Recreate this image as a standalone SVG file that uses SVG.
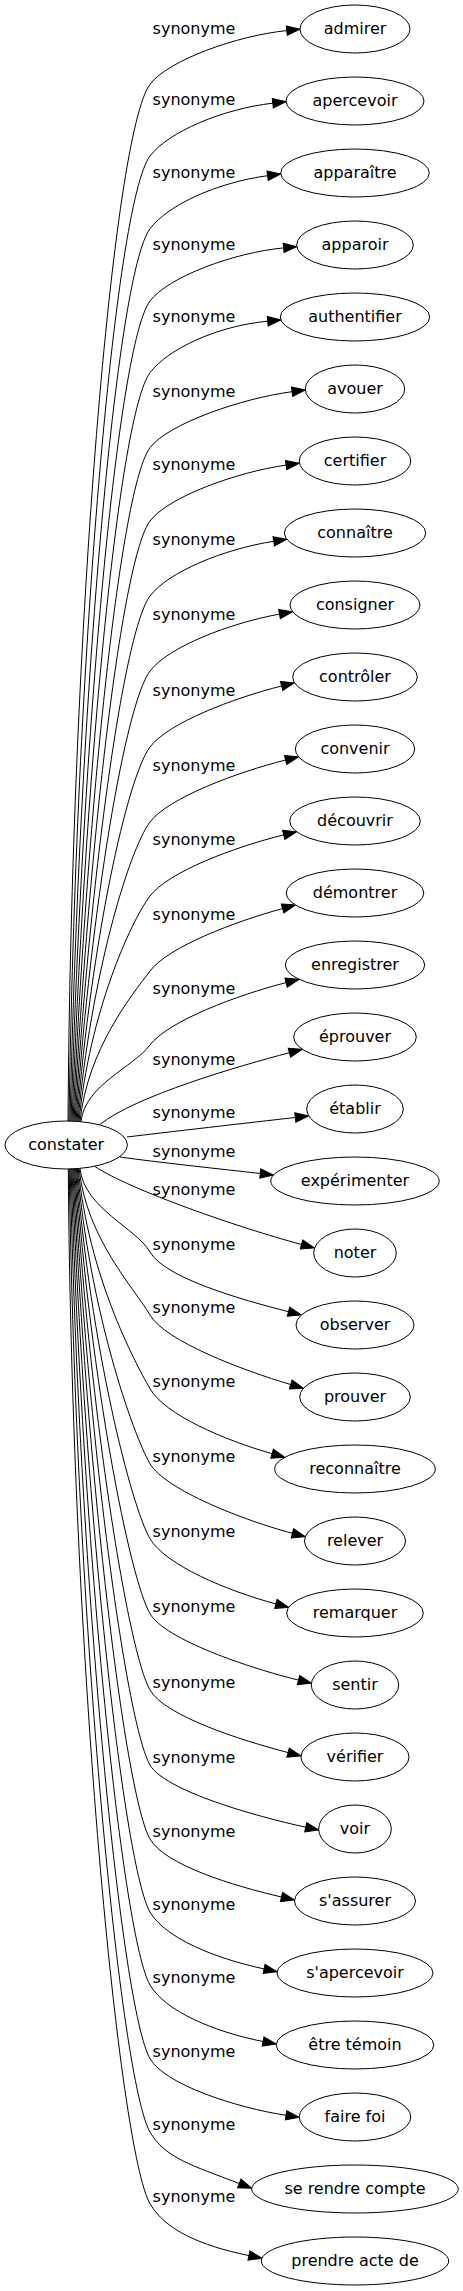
<svg xmlns="http://www.w3.org/2000/svg" width="463" height="2291" viewBox="0 0 463 2291">
<style>
.node ellipse{fill:#fff;stroke:#000;stroke-width:1}
text{font-family:"DejaVu Sans","Liberation Sans",sans-serif;font-size:16px;fill:#000;text-anchor:middle}
#edges path{fill:none;stroke:#000;stroke-width:1;marker-end:url(#ah)}
</style>
<defs>
<marker id="ah" viewBox="0 0 14 10" refX="0" refY="5" markerWidth="14" markerHeight="10" markerUnits="userSpaceOnUse" orient="auto" style="overflow:visible"><path d="M0,0.3 L13.3,5 L0,9.7 Z" fill="#000" stroke="#000" stroke-width="1"/></marker>
</defs>
<rect width="463" height="2291" fill="#fff"/>
<g id="edges">
<g id="e0"><path d="M68,1121.5 C71.4,623.6 113.2,133.3 150,84.3 C168,60.3 237,35.6 286.8,30.6"/><text x="194" y="33.5">synonyme</text></g>
<g id="e1"><path d="M69,1121.5 C75.8,658.1 114.7,203 150,156 C168,132 223.1,108.8 272.8,103.2"/><text x="194" y="105">synonyme</text></g>
<g id="e2"><path d="M70,1121.5 C79.7,693 116.3,273.7 150,228.7 C168,204.7 218.1,182.3 267.6,175.7"/><text x="194" y="177.7">synonyme</text></g>
<g id="e3"><path d="M71,1121.5 C83,727.7 117.8,344 150,301 C168,277 233.8,252.6 283.6,247.9"/><text x="194" y="250">synonyme</text></g>
<g id="e4"><path d="M72,1121.5 C85.8,762.1 119.3,413.7 150,372.7 C168,348.7 217.9,325.8 267.7,321.2"/><text x="194" y="321.7">synonyme</text></g>
<g id="e5"><path d="M73,1121.5 C88,798.1 120.8,486.6 150,447.7 C168,423.7 242.5,398.1 292.1,391.7"/><text x="194" y="396.7">synonyme</text></g>
<g id="e6"><path d="M74,1121.5 C89.7,833.3 122.4,557.8 150,521 C168,497 236.6,472.1 286.1,465.1"/><text x="194" y="470">synonyme</text></g>
<g id="e7"><path d="M75,1121.5 C90.8,869.3 124,630.7 150,596 C168,572 224.3,548.9 273.7,541.3"/><text x="194" y="545">synonyme</text></g>
<g id="e8"><path d="M76,1121.5 C91.3,905.3 125.5,703.6 150,671 C168,647 230.3,623 279.5,614.1"/><text x="194" y="620">synonyme</text></g>
<g id="e9"><path d="M77,1121.5 C91.2,941.7 127.1,777.5 150,747 C168,723 233.1,698.2 281.6,686"/><text x="194" y="696">synonyme</text></g>
<g id="e10"><path d="M78,1121.5 C90.6,977.7 128.7,850.4 150,822 C168,798 237.1,772.2 285.6,760"/><text x="194" y="771">synonyme</text></g>
<g id="e11"><path d="M79,1121.5 C89.3,1013.3 130.3,922.3 150,896 C168,872 235.1,846.8 283.7,834.9"/><text x="194" y="845">synonyme</text></g>
<g id="e12"><path d="M80,1121.5 C87.5,1049.3 131.8,995.2 150,971 C168,947 234.4,921.8 282.6,908.5"/><text x="194" y="920">synonyme</text></g>
<g id="e13"><path d="M81,1121.5 C85.1,1084.8 133.4,1067.2 150,1045 C168,1021 237.7,995 286.1,982.6"/><text x="194" y="994">synonyme</text></g>
<g id="e14"><path d="M100,1124.5 C135,1096 240,1065.7 289.4,1052.7"/><text x="194" y="1065">synonyme</text></g>
<g id="e15"><path d="M127,1137 C160,1133 255,1122 295.3,1117.5"/><text x="194" y="1118">synonyme</text></g>
<g id="e16"><path d="M120,1157 C155,1162 225,1169.5 260.3,1173.5"/><text x="194" y="1157">synonyme</text></g>
<g id="e17"><path d="M95,1166.5 C130,1190 240,1228 301.5,1244.5"/><text x="194" y="1195">synonyme</text></g>
<g id="e18"><path d="M80,1168.5 C84.4,1208.6 136,1227.8 150,1252 C165,1278 240.1,1299.3 288.5,1311.7"/><text x="194" y="1250">synonyme</text></g>
<g id="e19"><path d="M79.1,1168.5 C86.4,1238.8 135,1288.9 150,1315 C165,1341 242.7,1370.4 290.7,1384.5"/><text x="194" y="1313">synonyme</text></g>
<g id="e20"><path d="M78.2,1168.5 C88.3,1274.2 133.7,1360.4 150,1388.7 C165,1414.7 224,1440 272.1,1453.7"/><text x="194" y="1386.7">synonyme</text></g>
<g id="e21"><path d="M77.3,1168.5 C89.7,1310.2 132.4,1433.1 150,1463.7 C165,1489.7 244.1,1520.5 292.4,1533.3"/><text x="194" y="1461.7">synonyme</text></g>
<g id="e22"><path d="M76.4,1168.5 C90.5,1346.2 131,1505.8 150,1538.7 C165,1564.7 227.6,1591.1 275.9,1603.9"/><text x="194" y="1536.7">synonyme</text></g>
<g id="e23"><path d="M75.5,1168.5 C90.8,1382.2 129.7,1578.5 150,1613.7 C165,1639.7 249.9,1668.2 298.5,1680.1"/><text x="194" y="1611.7">synonyme</text></g>
<g id="e24"><path d="M74.6,1168.5 C90.4,1418.8 128.4,1652.5 150,1690 C165,1716 239.8,1739.9 288.1,1752.6"/><text x="194" y="1688">synonyme</text></g>
<g id="e25"><path d="M73.7,1168.5 C89.4,1454.8 127.1,1725.3 150,1765 C165,1791 256.9,1816.6 305.7,1827.2"/><text x="194" y="1763">synonyme</text></g>
<g id="e26"><path d="M72.8,1168.5 C87.9,1490.3 125.8,1797 150,1839 C165,1865 232.8,1885.7 281.5,1897"/><text x="194" y="1837">synonyme</text></g>
<g id="e27"><path d="M71.9,1168.5 C85.8,1525.4 124.5,1867.8 150,1912 C165,1938 215.2,1958.5 264.1,1968.9"/><text x="194" y="1910">synonyme</text></g>
<g id="e28"><path d="M71,1168.5 C83.1,1560.4 123.2,1938.6 150,1985 C165,2011 214,2031.9 263.1,2041.5"/><text x="194" y="1983">synonyme</text></g>
<g id="e29"><path d="M70.1,1168.5 C79.9,1595.8 121.9,2010 150,2058.7 C165,2084.7 236.6,2107.7 286,2115.3"/><text x="194" y="2056.7">synonyme</text></g>
<g id="e30"><path d="M69.2,1168.5 C76.1,1631 120.7,2081.2 150,2132 C165,2158 192.6,2165.6 239.3,2183.5"/><text x="194" y="2130">synonyme</text></g>
<g id="e31"><path d="M68.3,1168.5 C71.8,1665.4 119.4,2150.7 150,2203.7 C165,2229.7 199.9,2245.5 248.9,2255.6"/><text x="194" y="2201.7">synonyme</text></g>
</g>
<g id="n-constater" class="node"><ellipse cx="66.2" cy="1145" rx="61.2" ry="24"/><text x="66.2" y="1150">constater</text></g>
<g id="n-admirer" class="node"><ellipse cx="355" cy="29" rx="55" ry="24"/><text x="355" y="34">admirer</text></g>
<g id="n-apercevoir" class="node"><ellipse cx="355" cy="101" rx="69" ry="24"/><text x="355" y="106">apercevoir</text></g>
<g id="n-apparaitre" class="node"><ellipse cx="355" cy="173" rx="74.3" ry="24"/><text x="355" y="178">apparaître</text></g>
<g id="n-apparoir" class="node"><ellipse cx="355" cy="245" rx="58.3" ry="24"/><text x="355" y="250">apparoir</text></g>
<g id="n-authentifier" class="node"><ellipse cx="355" cy="317" rx="74.7" ry="24"/><text x="355" y="322">authentifier</text></g>
<g id="n-avouer" class="node"><ellipse cx="355" cy="389" rx="49.7" ry="24"/><text x="355" y="394">avouer</text></g>
<g id="n-certifier" class="node"><ellipse cx="355" cy="461" rx="55.8" ry="24"/><text x="355" y="466">certifier</text></g>
<g id="n-connaitre" class="node"><ellipse cx="355" cy="533" rx="70.7" ry="24"/><text x="355" y="538">connaître</text></g>
<g id="n-consigner" class="node"><ellipse cx="355" cy="605" rx="65" ry="24"/><text x="355" y="610">consigner</text></g>
<g id="n-controler" class="node"><ellipse cx="355" cy="677" rx="62.3" ry="24"/><text x="355" y="682">contrôler</text></g>
<g id="n-convenir" class="node"><ellipse cx="355" cy="749" rx="59.7" ry="24"/><text x="355" y="754">convenir</text></g>
<g id="n-decouvrir" class="node"><ellipse cx="355" cy="821" rx="65.3" ry="24"/><text x="355" y="826">découvrir</text></g>
<g id="n-demontrer" class="node"><ellipse cx="355" cy="893" rx="68.8" ry="24"/><text x="355" y="898">démontrer</text></g>
<g id="n-enregistrer" class="node"><ellipse cx="355" cy="965" rx="69.7" ry="24"/><text x="355" y="970">enregistrer</text></g>
<g id="n-eprouver" class="node"><ellipse cx="355" cy="1037" rx="61.3" ry="24"/><text x="355" y="1042">éprouver</text></g>
<g id="n-etablir" class="node"><ellipse cx="355" cy="1109" rx="48.3" ry="24"/><text x="355" y="1114">établir</text></g>
<g id="n-experimenter" class="node"><ellipse cx="355" cy="1181" rx="84.2" ry="24"/><text x="355" y="1186">expérimenter</text></g>
<g id="n-noter" class="node"><ellipse cx="355" cy="1253" rx="41.3" ry="24"/><text x="355" y="1258">noter</text></g>
<g id="n-observer" class="node"><ellipse cx="355" cy="1325" rx="59" ry="24"/><text x="355" y="1330">observer</text></g>
<g id="n-prouver" class="node"><ellipse cx="355" cy="1397" rx="55.3" ry="24"/><text x="355" y="1402">prouver</text></g>
<g id="n-reconnaitre" class="node"><ellipse cx="355" cy="1469" rx="80.3" ry="24"/><text x="355" y="1474">reconnaître</text></g>
<g id="n-relever" class="node"><ellipse cx="355" cy="1541" rx="50.5" ry="24"/><text x="355" y="1546">relever</text></g>
<g id="n-remarquer" class="node"><ellipse cx="355" cy="1613" rx="68.3" ry="24"/><text x="355" y="1618">remarquer</text></g>
<g id="n-sentir" class="node"><ellipse cx="355" cy="1685" rx="43.7" ry="24"/><text x="355" y="1690">sentir</text></g>
<g id="n-verifier" class="node"><ellipse cx="355" cy="1757" rx="54" ry="24"/><text x="355" y="1762">vérifier</text></g>
<g id="n-voir" class="node"><ellipse cx="355" cy="1829" rx="36.3" ry="24"/><text x="355" y="1834">voir</text></g>
<g id="n-sassurer" class="node"><ellipse cx="355" cy="1901" rx="60.5" ry="24"/><text x="355" y="1906">s'assurer</text></g>
<g id="n-sapercevoir" class="node"><ellipse cx="355" cy="1973" rx="78" ry="24"/><text x="355" y="1978">s'apercevoir</text></g>
<g id="n-etre-temoin" class="node"><ellipse cx="355" cy="2045" rx="78.8" ry="24"/><text x="355" y="2050">être témoin</text></g>
<g id="n-faire-foi" class="node"><ellipse cx="355" cy="2117" rx="55.8" ry="24"/><text x="355" y="2122">faire foi</text></g>
<g id="n-se-rendre-compte" class="node"><ellipse cx="355" cy="2189" rx="103.3" ry="24"/><text x="355" y="2194">se rendre compte</text></g>
<g id="n-prendre-acte-de" class="node"><ellipse cx="355" cy="2261" rx="93.7" ry="24"/><text x="355" y="2266">prendre acte de</text></g>
</svg>
